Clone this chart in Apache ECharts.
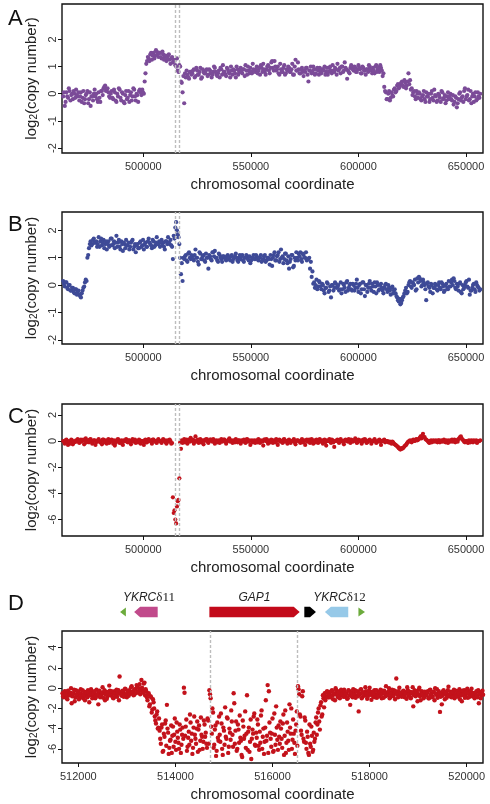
<!DOCTYPE html>
<html><head><meta charset="utf-8">
<script src="https://cdn.jsdelivr.net/npm/echarts@6/dist/echarts.min.js"></script>
<style>html,body{margin:0;padding:0;background:#fff}#c{width:490px;height:804px}</style>
</head><body><div id="c"></div>
<script>
const panelLetters = ['A', 'B', 'C', 'D'];
const xTitle = 'chromosomal coordinate';
const yTitle = 'log{s|2}(copy number)';
const wideTicks = [500000, 550000, 600000, 650000];
const zoomTicks = [512000, 514000, 516000, 518000, 520000];
const yTicksAB = [-2, -1, 0, 1, 2];
const yTicksC = [-6, -4, -2, 0, 2];
const yTicksD = [-6, -4, -2, 0, 2, 4];
const gap1 = [514712, 516519];
const wideStart = 462750, wideStart2 = 463125, wideStep = 750;
const zoomStart = 511675, zoomStart2 = 511687.5, zoomStep = 25;

const valuesA = [
-0.1,-0.45,0.05,-0.15,0.1,-0.05,-0.2,0,0.15,-0.1,
-0.25,0.05,-0.15,-0.35,-0.05,0.1,-0.2,-0.45,-0.1,0,
-0.1,-0.2,0.05,-0.3,0.1,0.2,0.3,0.15,0.05,-0.15,
0.1,-0.2,0.05,-0.3,-0.1,0.15,-0.25,0,-0.35,0.1,
-0.15,-0.3,0.05,-0.1,0.15,-0.25,-0.05,0.1,0.05,0.15,
0,0.75,1.2,1.3,1.45,1.25,1.5,1.4,1.55,1.35,
1.5,1.3,1.45,1.35,1.2,1.4,1.25,1.3,1.15,1.2,
1,0.85,1.05,0.45,0.05,-0.35,0.6,0.7,0.55,0.8,
0.75,0.9,0.65,0.85,0.7,0.95,0.6,0.8,0.75,0.9,
0.7,0.85,0.6,0.8,0.95,0.7,0.75,0.6,0.9,1.05,
0.8,0.65,0.9,0.75,1,0.7,0.85,0.6,0.9,0.8,
0.95,0.75,0.9,1.05,0.7,0.85,0.95,0.75,0.9,0.8,
1,0.85,0.7,0.95,1.1,0.8,0.9,1.05,0.75,1.15,
0.95,1.2,0.85,1,0.7,0.9,0.8,1.05,0.75,0.85,
0.95,0.8,1.1,0.7,1.25,0.85,0.9,0.75,0.95,0.65,
0.8,0.95,0.45,0.85,0.75,1,0.7,0.9,0.85,0.95,
0.75,0.9,1,0.8,0.7,0.95,0.85,1.05,0.8,0.9,
1.1,0.9,0.75,1,0.85,0.95,0.55,0.8,0.95,1,
0.85,0.95,0.8,1.05,0.9,0.75,0.95,0.85,0.9,0.8,
1,0.85,0.95,0.75,1.05,0.9,0.8,0.95,0.65,0.25,
0.05,-0.2,0.1,-0.15,-0.05,0.15,0.05,0.3,0.2,0.35,
0.45,0.25,0.4,0.3,0.75,0.5,0.2,0.05,-0.1,0.1,
-0.15,0,-0.25,-0.05,-0.2,0.05,-0.1,-0.3,0,-0.15,
0.15,-0.1,-0.25,-0.05,-0.3,0.05,-0.15,-0.35,-0.1,-0.2,
0,-0.25,-0.4,-0.1,-0.5,-0.2,0.05,-0.15,-0.3,0.2,
-0.1,0.15,-0.2,-0.35,0,-0.1,-0.25,0.05,-0.15
];
const valuesA2 = [
0.05,-0.3,-0.1,0.2,-0.25,0,0.1,-0.15,-0.05,0.05,
-0.1,-0.3,0.1,-0.2,0,-0.35,0.05,-0.1,-0.25,0.15,
0,-0.3,-0.15,0.1,-0.05,0.25,0.1,0.2,-0.1,0,
-0.15,0.15,-0.25,0,0.2,-0.15,0.05,-0.3,-0.05,-0.2,
0.1,-0.05,-0.25,0.2,-0.1,0,-0.3,0.15,-0.05,0.05,
0.45,1.1,1.35,1.2,1.5,1.4,1.3,1.6,1.45,1.5,
1.35,1.55,1.25,1.4,1.3,1.45,1.1,1.35,1.25,1.05,
1.3,0.8,1,0.4,0.65,0.75,0.85,0.6,0.8,0.7,
0.85,0.6,0.95,0.7,0.8,0.55,0.9,0.75,0.85,0.65,
0.9,0.75,0.7,1,0.8,0.65,0.85,0.95,0.7,0.8,
0.7,0.95,0.8,0.6,0.85,0.9,0.75,1,0.7,0.85,
0.8,0.9,0.65,0.85,1,0.75,0.8,1.1,0.85,0.9,
0.75,0.95,1.05,0.8,0.9,0.7,1,0.85,0.95,1.2,
0.85,1,0.9,0.75,1.1,0.8,0.95,0.7,0.9,1,
0.8,0.9,0.7,1,0.85,1.15,0.75,0.9,0.8,0.85,
0.95,0.7,0.85,1,0.8,0.9,0.75,0.95,0.7,0.8,
0.9,0.85,0.7,0.95,0.8,1,0.75,0.85,0.95,0.7,
0.85,0.95,1,0.8,1.15,0.9,0.85,0.75,1.05,0.9,
1,0.8,0.9,0.95,0.75,1,0.85,0.7,0.9,1.05,
0.9,0.75,0.85,1,0.8,0.95,1.05,0.85,0.75,0.1,
-0.2,0,-0.25,0.05,-0.1,0.2,0.1,0.35,0.25,0.4,
0.3,0.5,0.2,0.45,0.35,0.15,-0.05,0.1,-0.2,0,
0.05,-0.2,-0.1,0.1,-0.3,-0.1,0,-0.2,0.1,-0.25,
-0.05,-0.3,0,-0.15,0.1,-0.2,-0.05,-0.25,0.05,-0.1,
-0.2,-0.05,-0.3,-0.15,-0.35,0,-0.25,-0.1,0.1,-0.2,
-0.05,-0.25,0.1,-0.1,-0.3,0.05,-0.2,-0.1,0
];

const valuesB = [
0.15,-0.05,0.1,-0.15,0,-0.2,-0.1,-0.3,-0.15,-0.25,
-0.35,-0.45,-0.2,-0.05,0.2,1,1.35,1.6,1.5,1.7,
1.55,1.4,1.75,1.6,1.45,1.65,1.5,1.3,1.6,1.45,
1.7,1.5,1.35,1.8,1.55,1.4,1.6,1.25,1.5,1.65,
1.45,1.3,1.55,1.65,1.4,1.2,1.5,1.35,1.6,1.45,
1.3,1.55,1.4,1.7,1.5,1.35,1.6,1.45,1.75,1.5,
1.4,1.65,1.55,1.3,1.6,1.75,1.5,1.45,0.95,1.7,
2.3,1.85,1.5,0.4,0.15,0.95,1.1,0.85,1.2,0.95,
1.05,0.9,1.3,1,0.75,1.15,0.95,1.1,0.85,1,
0.6,1.05,0.9,1.2,1.25,1,0.85,1.1,0.95,1.05,
1,0.9,1.1,0.95,1.05,0.85,1,1.15,0.9,1,
0.95,1.1,0.85,1,1.05,0.9,0.8,1,1.1,0.95,
1.05,0.9,1,0.85,0.95,1.1,0.9,1,0.75,0.95,
1,1.2,0.9,1.1,0.85,1.3,1.05,0.95,1.15,0.8,
0.6,0.95,1.1,0.7,0.9,1,1.15,1.2,0.85,1.1,
1,0.9,0.95,0.6,0.3,0.05,-0.1,0.2,-0.05,0.1,
-0.15,0,-0.3,-0.1,0.05,-0.2,-0.45,0,-0.1,0.05,
-0.05,-0.2,0.1,-0.15,0,-0.25,0.15,-0.1,0.05,-0.2,
0,-0.1,0.2,-0.25,0.05,-0.15,0.1,-0.4,0,-0.1,
0.15,-0.2,-0.05,0.1,-0.3,0,-0.15,0.05,-0.2,-0.1,
0.05,-0.25,-0.1,-0.35,-0.05,-0.2,-0.3,-0.45,-0.6,-0.7,
-0.55,-0.4,-0.2,-0.3,0,0.15,-0.1,0.05,0.2,-0.15,
0.1,0.25,-0.05,0.2,0,-0.55,0.1,-0.1,0.05,-0.3,
-0.1,0,-0.2,0.1,-0.15,0.05,-0.25,0,-0.1,0.15,
-0.05,0.2,0.25,-0.1,0.05,-0.2,0.1,-0.3,-0.15,0,
0.15,-0.1,-0.35,-0.2,0,-0.15,0.1,-0.05,-0.2
];
const valuesB2 = [
0.05,0.1,-0.1,0,-0.2,-0.1,-0.25,-0.15,-0.35,-0.2,
-0.4,-0.3,-0.1,0.1,0.15,1.1,1.5,1.45,1.65,1.55,
1.6,1.5,1.4,1.7,1.55,1.35,1.6,1.5,1.4,1.7,
1.45,1.6,1.55,1.4,1.65,1.3,1.5,1.55,1.35,1.45,
1.55,1.4,1.6,1.3,1.5,1.45,1.35,1.55,1.4,1.65,
1.5,1.4,1.6,1.55,1.45,1.65,1.4,1.55,1.5,1.6,
1.55,1.45,1.4,1.6,1.5,1.55,1.65,1.4,1.8,2.1,
2,1.75,1,0.8,1,1.05,0.9,1.15,1,1.1,
0.95,1.1,1,0.85,1.2,0.95,1.05,0.9,1.15,1,
1.1,0.95,1.2,1.05,1,0.9,1.15,1,0.85,1.05,
0.95,1.05,1,0.9,1.1,0.95,1.05,1,0.85,1.1,
1.05,0.9,1,1.1,0.95,1.05,0.9,1,0.95,1.1,
0.95,1,1.1,0.9,1.05,0.85,1,0.95,1.1,0.7,
1.1,0.9,1.05,1.2,0.95,1,0.8,1.15,0.9,1.05,
0.85,1.1,0.65,1,1.2,0.9,1.05,0.95,1.15,1,
1.2,0.95,1,0.85,0.5,0.1,0,-0.15,0.15,-0.05,
0.05,-0.2,-0.1,0.1,-0.25,-0.05,0,-0.2,0.1,-0.1,
0,-0.15,-0.3,0.05,-0.1,0.1,-0.2,0,-0.15,0.05,
-0.2,0.05,-0.1,0,-0.3,0.1,-0.15,0,-0.25,0.05,
-0.1,0.05,-0.25,-0.05,0.1,-0.2,0,-0.1,-0.3,0,
-0.15,0,-0.2,-0.1,-0.3,-0.15,-0.4,-0.55,-0.5,-0.65,
-0.45,-0.3,-0.1,-0.25,0.1,-0.05,0.1,0,-0.2,0.25,
0.3,0.15,0,0.1,-0.15,0.05,-0.05,-0.25,0,-0.1,
0.05,-0.15,0,-0.1,0.1,-0.05,-0.2,0.05,-0.15,-0.05,
0.1,0,0.15,-0.15,-0.05,0.05,-0.25,0,-0.1,0.1,
-0.05,0.2,-0.2,-0.1,0.05,-0.25,0,-0.1,-0.15
];

const valuesC = [
0,-0.2,0.1,-0.3,-0.05,0.1,-0.25,-0.1,0.05,0.15,
-0.15,0.1,0.05,-0.25,0.2,0,-0.1,0.15,-0.2,0.05,
-0.3,0,0.15,-0.1,-0.25,0.1,0,-0.2,0.15,-0.05,
0.1,-0.2,-0.35,0,0.15,-0.15,0.05,-0.3,0,0.15,
-0.1,0.05,-0.25,0.15,0.05,-0.15,0,0.1,-0.2,0,
-0.3,0.1,-0.1,0.15,0,-0.2,0.1,0,-0.15,0.15,
0,-0.15,0.15,0.05,-0.2,0,0.1,-0.2,-4.3,-5.3,
-6.3,-4.6,-2.85,-0.6,-0.15,0.15,0,-0.2,0.1,0.25,
0,-0.2,0.35,0.05,-0.15,0.15,0,-0.25,0.1,0.15,
-0.15,0.1,0,0.15,-0.2,0.05,0,-0.15,0.15,0,
0.1,-0.2,0,0.2,0.05,-0.15,0,0.15,-0.1,0.05,
-0.2,0,0.1,-0.15,0.15,0,-0.3,0.05,0,-0.15,
0.05,0.15,-0.15,0,-0.35,0.1,0.15,-0.2,0,0.1,
-0.15,0,0.15,-0.3,0.1,0,-0.15,0.15,0,-0.2,
0.1,-0.15,0,0.15,-0.25,0.05,0,-0.15,0.15,0,
-0.3,0.1,0,-0.15,0.15,-0.2,0,0.1,-0.15,0.15,
0,-0.2,0.1,-0.35,0,0.15,-0.15,0.05,-0.45,0,
0.1,-0.15,0.15,0,-0.25,0.1,0,0.15,-0.15,0.05,
0,0.2,-0.15,0.1,0,-0.2,0.1,0.15,-0.15,0,
0.1,-0.2,0,0.15,-0.15,0,0.1,-0.3,0,0.1,
-0.05,0,-0.1,-0.15,-0.05,-0.2,-0.3,-0.4,-0.55,-0.65,
-0.6,-0.5,-0.35,-0.2,-0.05,0.05,-0.1,0.1,0,0.15,
0.1,0.25,0.2,0.55,0.3,0.1,0,-0.15,0.05,-0.05,
0,0.05,-0.1,0.05,0,-0.05,0.1,-0.1,0,0.05,
-0.05,0.1,0,-0.1,0.05,0.15,0.3,0.2,0.05,-0.1,
0,-0.15,-0.05,0.05,-0.1,0,0.05,-0.05,0
];
const valuesC2 = [
-0.05,0.05,-0.1,0,-0.2,0.05,-0.1,0,-0.05,0.05,
0,-0.05,0.1,0,-0.1,0.05,0.1,-0.05,0,0.05,
-0.1,0.05,-0.05,0,0.1,-0.1,0.05,0,-0.15,0.05,
0,0.05,-0.15,0.1,-0.05,0,-0.2,0.05,0,-0.05,
0.05,-0.1,0,-0.05,0.1,0,-0.1,0.05,0,-0.05,
0.05,-0.1,0,0.05,-0.05,0.1,0,-0.1,0.05,0,
-0.05,0.05,0,-0.1,0.05,-0.05,0,-0.15,-5.5,-6,
-5,-4.5,-0.1,0.05,0,-0.1,0.1,0,-0.05,0.05,
0.1,0,-0.05,0.1,0.05,-0.1,0.05,0,0.1,-0.05,
0,0.1,-0.05,0.05,0,-0.1,0.05,0,-0.05,0.1,
-0.05,0,0.1,-0.05,0,0.05,-0.1,0,0.05,-0.05,
0.05,-0.05,0,0.1,-0.05,0.05,0,-0.1,0.05,0,
-0.1,0,0.05,-0.05,0.1,0,-0.05,0.05,-0.1,0,
0.05,-0.1,0,0.05,-0.05,0,0.1,-0.05,0,0.05,
-0.05,0,0.05,-0.1,0,0.05,-0.05,0,-0.1,0.05,
0,-0.05,0.1,0,-0.05,0.05,-0.1,0,0.05,-0.05,
0.05,0,-0.1,0.05,0,-0.05,0.1,-0.1,0,0.05,
-0.05,0.05,0,-0.1,0.05,0,-0.05,0,0.1,-0.05,
0.05,0,-0.1,0,0.05,-0.05,0,0.05,-0.1,0.05,
0,-0.05,0.05,0,-0.1,0.05,-0.05,0,0.05,-0.1,
0,-0.1,-0.05,-0.2,-0.1,-0.25,-0.35,-0.45,-0.6,-0.55,
-0.55,-0.4,-0.3,-0.1,0,-0.05,0.05,0,0.1,0.05,
0.15,0.35,0.4,0.3,0.15,0.05,-0.1,0,-0.1,0.05,
-0.05,0,0.05,-0.1,0.05,0,-0.05,0.05,-0.15,0,
0.05,-0.05,0.1,0.05,-0.05,0.2,0.35,0.1,-0.05,0,
-0.1,0.05,-0.1,0,0.05,-0.05,-0.15,0,0.05
];

const valuesD1 = [
-0.5,-0.9,-0.3,-0.7,-1.1,-0.4,-0.6,0,-0.8,-0.5,-1.3,-0.2,-0.7,-0.45,-0.9,-0.1,-0.6,-1,-0.35,-0.75,
-0.55,-0.2,-1.4,-0.65,-0.3,-0.8,-0.5,-1,-0.15,-0.7,-0.4,-0.9,-0.6,0.1,-0.5,-1.2,-0.35,-0.8,-0.55,-0.25,
-0.7,-0.4,-1,-0.3,-0.6,-0.85,-0.2,1.15,-0.5,-0.75,-0.35,-0.6,-0.1,-0.9,-0.45,-0.2,-0.55,0.2,-0.3,-0.65,
-0.15,0.3,-0.4,0,-0.6,0.8,-0.25,0.45,-0.7,-0.3,-1.2,-0.5,-1.6,-0.9,-2.1,-1.4,-2.8,-3.5,-2.3,-3.9,
-4.2,-5.5,-3.6,-6.2,-4.8,-3.2,-1.65,-4.4,-5.9,-5.1,-6.4,-3.8,-4.6,-5.3,-3.4,-4.9,-6,-4.1,-5.6,-3.9,
0.05,-4.7,-3.1,-5.8,-4.3,-2.6,-5.2,-6.5,-3.9,-4.6,-5.5,-3.3,-4.1,-6.1,-2.9,-4.8,-5.3,-3.6,-4.4,-5.9,
-3.2,-0.2,-1,-4.5,-2.4,-5.6,-3.7,-6.2,-4.9,-2.8,-5.3,-3.5,-6.6,-4.2,-1.9,-5,-3,-5.8,-4.4,-2.2,
-4.6,-0.5,-5.5,-3.3,-6,-4.1,-2.7,-5.2,-6.8,-3.8,-4.7,-5.9,-0.7,-4.3,-6.3,-3.1,-5,-4.5,-2.5,-5.7,
-4.9,-3.6,-6.1,-5.4,-2.2,-4.8,-6.5,-3.9,-5.2,0.3,-0.3,-4.4,-5.8,-3,-6.2,-4.6,-1.8,-5.1,-3.7,-5.5,
-4,-5.9,-2.6,-4.7,-6.4,-3.4,-5.2,-1.6,-4.5,-6,-3.1,-5.4,-4.2,-2.3,0.2,-0.6,-2.8,-4.6,-0.3,-5.3,
-3.2,-6,-4.8,-6.6,-5.5,-3.8,-6.3,-4.4,-5,-2.9,-3.6,-2,-4.1,-1.4,-2.6,-1,-0.5,-0.8,-0.3,-0.9,
-0.4,-0.8,-0.2,-1.1,-0.6,0,-0.5,-0.9,-0.3,-0.7,-0.35,-0.45,-0.15,-0.85,-0.55,-1,-0.25,-1.65,-0.4,-0.9,
-0.5,-0.2,-0.75,-0.35,-2.3,-0.6,-0.1,-0.9,-0.45,-0.7,-0.3,-1.05,-0.55,0.05,-0.65,-0.4,-0.85,-0.2,-0.6,-0.95,
-0.35,-0.7,-0.15,-1,-0.5,-0.25,-0.8,-0.45,-0.6,0,-0.9,-0.4,-0.65,-0.2,-1.1,0.95,-0.55,-0.3,-0.75,-0.5,
-0.6,-0.25,-0.9,-0.4,0.1,-0.7,-0.35,-1,-0.5,-1.8,-0.2,-0.8,-0.45,-0.65,0.05,-1.2,-0.3,-0.55,-0.85,-0.4,
-0.7,-0.3,-1,-0.15,-0.55,-0.85,-0.4,0,-0.65,-0.95,-0.3,-2.35,-0.5,-0.75,-0.2,-1.1,-0.45,-0.6,0.15,-0.8,
-0.35,-0.7,-0.5,-1,-0.25,-0.6,-0.85,-0.1,-0.45,-1.3,-0.55,-0.2,-0.75,-0.4,-0.95,-0.3,-0.65,-0.05,-0.8,-0.5,
-0.6,-0.3,-0.9,-1.5,-0.4,-0.7,-0.25
];
const valuesD2 = [
-0.8,-0.35,-0.6,-1,-0.25,-0.7,-0.45,-1.5,-0.55,-0.15,-0.9,-0.6,-0.3,-1.1,-0.5,-0.8,-0.2,-0.65,-1.2,-0.4,
-0.9,-0.45,-0.7,-0.1,-1,-0.55,-0.3,-0.85,-0.6,-1.6,-0.25,-0.75,-0.45,-0.95,-0.2,-0.6,-1.05,-0.4,0.25,-0.7,
-0.3,-0.95,-0.55,-0.8,-0.15,-0.5,-1.2,-0.4,-0.7,-0.25,-0.85,-0.05,-0.6,-0.35,-0.75,-0.5,0.1,-0.4,-0.7,-0.1,
-0.5,0.1,-0.35,0.4,-0.2,0.05,-0.45,0.55,-0.1,-0.9,-0.6,-1.8,-0.8,-2.4,-1.1,-2,-3.2,-2.6,-4,-3,
-5,-3.9,-6.3,-4.5,-3.5,-5.7,-4,-6.5,-5.2,-3.7,-4.7,-5.8,-3,-6.1,-4.3,-5.4,-3.6,-6.4,-4.6,-5,
-0.45,-3.8,-6.2,-4.9,-5.6,-3.4,-4.5,-5.9,-2.8,-5,-4,-6.3,-3.7,-5.2,-4.6,-6,-3.2,-4.8,-5.5,-3,
-5.5,-0.6,-3.8,-2,-5.9,-4.1,-6.7,-3.4,-5.2,-4.6,-2.5,-6,-3.9,-5.6,-4.8,-2.9,-6.4,-4,-5.1,-3.3,
-5.8,-1.5,-4.2,-6.2,-3.6,-5.4,-4.9,-6.6,-3.2,-5,-2.3,-4.5,-6.1,-3.9,-5.3,-7,-4.1,-2.8,-5.6,-4.4,
-3.1,-5.7,-4.3,-2.7,-6,-4,-5.3,-1.2,-4.7,-6.4,-3.4,-5,-4.5,-6.3,-2.5,-5.6,-3.9,-6.1,-4.8,-3.3,
-5,-3.5,-6.6,-2.2,-5.4,-4.3,-6.1,-3.9,-2,-5.1,-4.5,-6.5,-3.6,-5.7,-0.1,-2.6,-4.2,-0.8,-5,-2.9,
-5.4,-4.3,-6.4,-3.6,-5.8,-4.7,-6.1,-5.3,-3.4,-4.6,-2.4,-3.3,-1.7,-2.8,-0.7,-1.9,-1.2,-0.4,-0.9,-0.6,
-0.9,-0.3,-0.7,-0.5,-1.2,-0.2,-0.75,-0.4,-1,-0.15,-0.6,-0.85,-0.35,-0.55,-1.05,-0.2,-0.7,-0.45,-0.8,-0.1,
-0.65,-0.95,-0.3,-0.8,-0.5,-0.15,-1,-0.4,-0.7,0.1,-0.55,-0.85,-0.25,-0.6,-1.15,-0.35,-0.5,-0.9,-0.2,-0.7,
-0.8,-0.4,-0.6,-0.25,-0.95,-0.5,0.2,-0.7,-0.35,-1,-0.55,-0.15,-0.8,-0.45,-0.3,-0.6,-0.9,0.05,-0.5,-0.85,
-0.3,-0.75,-0.5,-1.05,-0.2,-0.6,-0.9,-0.4,0.1,-0.7,-0.55,-0.3,-1.3,-0.15,-0.8,-0.5,-0.65,-1,-0.35,-0.7,
-0.45,-1,-0.2,-0.65,-0.9,-0.35,-1.2,-0.55,-0.1,-0.75,-0.5,-0.85,-1.6,-0.3,-0.6,-0.4,-0.95,-0.2,-0.7,-0.5,
-0.9,-0.4,-0.15,-0.65,-0.8,-0.3,-0.5,-1.1,-0.7,-0.25,-0.6,-0.95,-0.4,-0.05,-0.55,-0.85,-0.35,-0.7,-0.5,-1,
-0.45,-0.75,-0.2,-0.55,-1,-0.35,-0.65
];

const geneStart = [512860, 513150, 514700, 516655, 517080, 517770];
const geneEnd = [512980, 513635, 516560, 516895, 517560, 517905];
const geneStrand = [-1, -1, 1, 1, -1, 1];
const geneColors = ['#6cab3c', '#c14a8b', '#c30a1a', '#000000', '#96c9e8', '#6cab3c'];
const geneLabels = ['', 'YKRCδ11', 'GAP1', '', 'YKRCδ12', ''];

const colA = '#7b4b98', colB = '#3e4a97', colC = '#c3121b';

const wideRange = [462200, 657900];
const zoomRange = [511664, 520336];
const yRanges = [[-2.18, 3.3], [-2.15, 2.67], [-7.26, 2.83], [-7.4, 5.65]];
const gridTops = [4, 212, 404, 631];
const gridHeights = [149, 132, 132, 132];

const toPts = (vals, start, step) => vals.map((v, i) => [start + i * step, v]);

const chart = echarts.init(document.getElementById('c'), null, {renderer: 'canvas'});
const font = 'Liberation Sans, Arial, Helvetica, sans-serif';

const grids = gridTops.map((t, i) => ({left: 62, top: t, width: 421, height: gridHeights[i], show: true, borderColor: '#111', borderWidth: 1.4, backgroundColor: 'transparent'}));
grids.push({left: 62, top: 600, width: 421, height: 24, show: false});

const xAxes = [0, 1, 2, 3].map(i => {
  const r = i < 3 ? wideRange : zoomRange;
  const ticks = i < 3 ? wideTicks : zoomTicks;
  return {
    type: 'value', gridIndex: i, min: r[0], max: r[1],
    axisLine: {show: false, onZero: false},
    axisTick: {show: true, length: 4, customValues: ticks, lineStyle: {color: '#111', width: 1}},
    axisLabel: {customValues: ticks, formatter: v => String(v), fontSize: 11, color: '#333', margin: 8, fontFamily: font},
    splitLine: {show: false},
    name: xTitle, nameLocation: 'middle', nameGap: 24,
    nameTextStyle: {fontSize: 15, color: '#222', fontFamily: font}
  };
});
xAxes.push({type: 'value', gridIndex: 4, min: zoomRange[0], max: zoomRange[1], show: false});

const yTickSets = [yTicksAB, yTicksAB, yTicksC, yTicksD];
const yAxes = [0, 1, 2, 3].map(i => ({
  type: 'value', gridIndex: i, min: yRanges[i][0], max: yRanges[i][1],
  axisLine: {show: false, onZero: false},
  axisTick: {show: true, length: 4, customValues: yTickSets[i], lineStyle: {color: '#111', width: 1}},
  axisLabel: {customValues: yTickSets[i], formatter: v => String(v), rotate: 90, fontSize: 11, color: '#333', margin: 4, fontFamily: font},
  splitLine: {show: false},
  name: yTitle, nameLocation: 'middle', nameGap: 18,
  nameTextStyle: {fontSize: 15, color: '#222', fontFamily: font,
    rich: {s: {fontSize: 10, color: '#222', fontFamily: font, verticalAlign: 'bottom', padding: [5, 0, 0, 0]}}}
}));
yAxes.push({type: 'value', gridIndex: 4, min: 0, max: 1, show: false});

const gapLine = {
  silent: true, symbol: 'none', label: {show: false},
  lineStyle: {type: [3, 2], color: '#bdbdbd', width: 1.4},
  data: [{xAxis: gap1[0]}, {xAxis: gap1[1]}]
};

const scatter = (idx, data, color, size) => ({
  type: 'scatter', xAxisIndex: idx, yAxisIndex: idx, data: data,
  symbolSize: size, itemStyle: {color: color, opacity: 1}, animation: false, silent: true
});

const series = [
  Object.assign(scatter(0, toPts(valuesA, wideStart, wideStep), colA, 4.2), {markLine: gapLine}),
  scatter(0, toPts(valuesA2, wideStart2, wideStep), colA, 4.2),
  Object.assign(scatter(1, toPts(valuesB, wideStart, wideStep), colB, 4.2), {markLine: gapLine}),
  scatter(1, toPts(valuesB2, wideStart2, wideStep), colB, 4.2),
  Object.assign(scatter(2, toPts(valuesC, wideStart, wideStep), colC, 4.2), {markLine: gapLine}),
  scatter(2, toPts(valuesC2, wideStart2, wideStep), colC, 4.2),
  Object.assign(scatter(3, toPts(valuesD1, zoomStart, zoomStep), colC, 4.4), {markLine: gapLine}),
  scatter(3, toPts(valuesD2, zoomStart2, zoomStep), colC, 4.4),
  {
    type: 'custom', xAxisIndex: 4, yAxisIndex: 4, silent: true, animation: false,
    data: geneStart.map((s, i) => [s, geneEnd[i], geneStrand[i]]),
    renderItem: function (params, api) {
      const idx = params.dataIndex;
      const p1 = api.coord([api.value(0), 0.5]);
      const p2 = api.coord([api.value(1), 0.5]);
      const dir = api.value(2);
      const w = p2[0] - p1[0];
      const small = w < 9;
      const hh = small ? 4.5 : 5.3;
      const head = small ? w : 6;
      const y = p1[1];
      let pts;
      if (dir > 0) pts = [[p1[0], y - hh], [p2[0] - head, y - hh], [p2[0], y], [p2[0] - head, y + hh], [p1[0], y + hh]];
      else pts = [[p2[0], y - hh], [p1[0] + head, y - hh], [p1[0], y], [p1[0] + head, y + hh], [p2[0], y + hh]];
      const children = [{type: 'polygon', shape: {points: pts}, style: {fill: geneColors[idx]}}];
      const lab = geneLabels[idx];
      if (lab) {
        const k = lab.indexOf('δ');
        const txt = k >= 0 ? '{i|' + lab.slice(0, k) + '}{n|' + lab.slice(k) + '}' : '{i|' + lab + '}';
        children.push({
          type: 'text', x: (p1[0] + p2[0]) / 2 + (k >= 0 ? 3 : 0), y: y - 8,
          style: {
            text: txt, align: 'center', verticalAlign: 'bottom', fill: '#222',
            rich: {
              i: {fontStyle: 'italic', fontSize: 12, fontFamily: font, fill: '#222'},
              n: {fontSize: 13, fontFamily: 'Liberation Serif, Times New Roman, serif', fill: '#222'}
            }
          }
        });
      }
      return {type: 'group', children: children};
    }
  }
];

const titles = panelLetters.map((l, i) => ({
  text: l, left: 3, top: [3, 209, 401, 588][i],
  textStyle: {fontSize: 22, fontWeight: 'normal', color: '#111', fontFamily: font}
}));

chart.setOption({
  animation: false,
  backgroundColor: '#fff',
  title: titles,
  grid: grids,
  xAxis: xAxes,
  yAxis: yAxes,
  series: series
});
</script></body></html>
